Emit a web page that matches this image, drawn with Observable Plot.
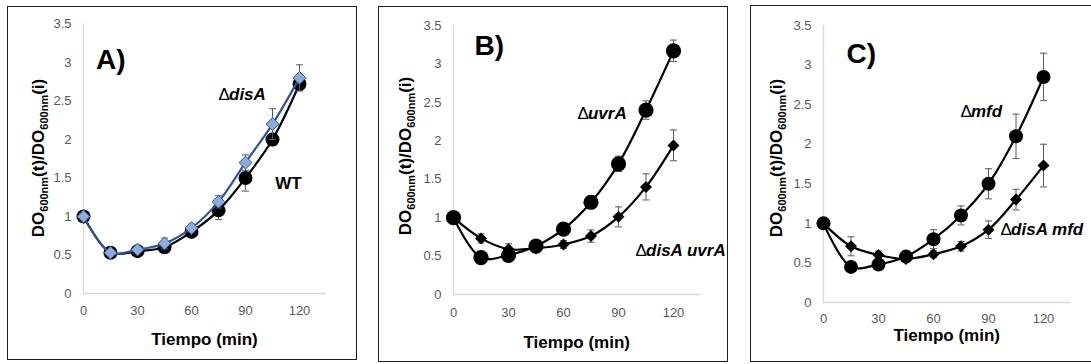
<!DOCTYPE html>
<html><head><meta charset="utf-8">
<script src="https://cdn.jsdelivr.net/npm/d3@7"></script>
<script src="https://cdn.jsdelivr.net/npm/@observablehq/plot@0.6"></script>
<style>
html,body{margin:0;padding:0;background:#fff;width:1091px;height:364px;overflow:hidden;position:relative;}
.box{position:absolute;box-sizing:border-box;border:1.6px solid #1e1e1e;pointer-events:none;}
</style></head><body>
<script>
const times = [0, 15, 30, 45, 60, 75, 90, 105, 120];
const yTicks = [0, 0.5, 1, 1.5, 2, 2.5, 3, 3.5];
const xTicks = [0, 30, 60, 90, 120];
const panelLabels = ["A)", "B)", "C)"];
const xTitle = "Tiempo (min)";

// Panel A
const wtA      = [1.00, 0.53, 0.55, 0.60, 0.80, 1.08, 1.50, 2.00, 2.72];
const wtAErr   = [0, 0.02, 0.03, 0.04, 0.04, 0.12, 0.17, 0.08, 0.08];
const disA     = [1.00, 0.53, 0.57, 0.65, 0.85, 1.19, 1.70, 2.20, 2.80];
const disAErr  = [0, 0.02, 0.03, 0.07, 0.05, 0.08, 0.10, 0.20, 0.17];
// Panel B
const uvrA        = [1.00, 0.48, 0.51, 0.63, 0.85, 1.20, 1.70, 2.40, 3.17];
const uvrAErr     = [0, 0.03, 0.04, 0.05, 0.05, 0.08, 0.10, 0.12, 0.14];
const disAuvrA    = [1.00, 0.73, 0.59, 0.60, 0.65, 0.76, 1.01, 1.40, 1.94];
const disAuvrAErr = [0, 0.06, 0.07, 0.05, 0.05, 0.08, 0.13, 0.17, 0.20];
// Panel C
const mfd        = [1.00, 0.45, 0.48, 0.58, 0.80, 1.10, 1.50, 2.10, 2.85];
const mfdErr     = [0, 0.03, 0.03, 0.04, 0.12, 0.12, 0.19, 0.28, 0.30];
const disAmfd    = [1.00, 0.71, 0.60, 0.55, 0.61, 0.71, 0.92, 1.30, 1.73];
const disAmfdErr = [0, 0.12, 0.05, 0.04, 0.04, 0.06, 0.11, 0.13, 0.27];

// Series label texts: [prefix, italic gene name]
const labelsA = [["", "WT"], ["Δ", "disA"]];
const labelsB = [["Δ", "uvrA"], ["Δ", "disA uvrA"]];
const labelsC = [["Δ", "mfd"], ["Δ", "disA mfd"]];

const FONT = "'Liberation Sans', Arial, Helvetica, sans-serif";
const errColor = "#595959";
const cap = { draw(ctx, size) { const w = Math.sqrt(size / Math.PI); ctx.moveTo(-w, 0); ctx.lineTo(w, 0); } };

function rows(vals, errs) { return times.map((t, i) => ({ t, v: vals[i], e: errs[i] })); }

function seriesMarks(data, st) {
  const withErr = data.filter(d => d.e > 0);
  return [
    Plot.ruleX(withErr, { x: "t", y1: d => d.v - d.e, y2: d => d.v + d.e, stroke: errColor, strokeWidth: 1 }),
    Plot.dot(withErr, { x: "t", y: d => d.v + d.e, symbol: cap, r: 3.5, fill: "none", stroke: errColor, strokeWidth: 1 }),
    Plot.dot(withErr, { x: "t", y: d => d.v - d.e, symbol: cap, r: 3.5, fill: "none", stroke: errColor, strokeWidth: 1 }),
    Plot.line(data, { x: "t", y: "v", curve: "catmull-rom", stroke: st.line, strokeWidth: 2.2 }),
    Plot.dot(data, { x: "t", y: "v", symbol: st.symbol, r: st.r, fill: st.fill, stroke: st.stroke || "none", strokeWidth: st.sw || 0 })
  ];
}

function labelMarks(lab, x, y) {
  const [pre, name] = lab;
  const marks = [];
  const italic = pre === "Δ";
  if (pre) marks.push(Plot.text([pre], { x: () => x, y: () => y, text: d => d, textAnchor: "start", fontSize: 17, fill: "#000" }));
  marks.push(Plot.text([name], { x: () => x, y: () => y, text: d => d, textAnchor: "start", fontSize: 17, fontWeight: "bold",
    fontStyle: italic ? "italic" : "normal", dx: pre ? 10.5 : 0, fill: "#000" }));
  return marks;
}

const circle = { symbol: "circle", r: 7, fill: "#000", line: "#000" };
const circleB = { symbol: "circle", r: 7.6, fill: "#000", line: "#000" };
const diamondBlack = { symbol: "diamond2", r: 5.4, fill: "#000", line: "#000" };
const diamondBlue = { symbol: "diamond2", r: 5.8, fill: "#8FAADC", stroke: "#2F5597", sw: 1, line: "#2F5597" };

const panels = [
  { box: [7, 6, 350, 354], m: [17.5, 31, 67, 76], xPad: 12, label: panelLabels[0], lab: [7, 3.03],
    series: [[rows(wtA, wtAErr), circle], [rows(disA, disAErr), diamondBlue]],
    texts: [[labelsA[0], 106.5, 1.43], [labelsA[1], 75, 2.58]], yt: [36.6, 152], xtY: 339 },
  { box: [378, 6, 350, 356], m: [19, 27.5, 68, 75], xPad: 13, label: panelLabels[1], lab: [11.5, 3.23],
    series: [[rows(disAuvrA, disAuvrAErr), diamondBlack], [rows(uvrA, uvrAErr), circleB]],
    texts: [[labelsB[0], 67.6, 2.35], [labelsB[1], 99.3, 0.57]], yt: [33, 150], xtY: 342 },
  { box: [750, 5, 345, 357], m: [20, 24.5, 60, 73], xPad: 11, label: panelLabels[2], lab: [12.5, 3.14],
    series: [[rows(disAmfd, disAmfdErr), diamondBlack], [rows(mfd, mfdErr), circle]],
    texts: [[labelsC[0], 74.7, 2.41], [labelsC[1], 96.6, 0.92]], yt: [31.6, 153], xtY: 336 }
];

for (const p of panels) {
  const [bx, by, bw, bh] = p.box;
  const [mt, mr, mb, ml] = p.m;
  const marks = [
    Plot.ruleY([0], { stroke: "#d9d9d9", strokeWidth: 1.3 }),
    Plot.ruleX([0], { stroke: "#d9d9d9", strokeWidth: 1.3 }),
    Plot.axisY({ ticks: yTicks, tickSize: 0, tickPadding: 12, fontSize: 13, color: "#595959", tickFormat: d => String(d), label: null }),
    Plot.axisX({ ticks: xTicks, tickSize: 0, tickPadding: p.xPad, fontSize: 13, color: "#595959", tickFormat: d => String(d), label: null })
  ];
  for (const [data, st] of p.series) marks.push(...seriesMarks(data, st));
  for (const [lab, x, y] of p.texts) marks.push(...labelMarks(lab, x, y));
  marks.push(Plot.text([p.label], { x: () => p.lab[0], y: () => p.lab[1], text: d => d, textAnchor: "start", fontSize: 28, fontWeight: "bold", fill: "#000" }));

  const plot = Plot.plot({
    width: bw, height: bh,
    marginTop: mt, marginRight: mr, marginBottom: mb, marginLeft: ml,
    x: { domain: [0, 135] },
    y: { domain: [0, 3.5] },
    style: { fontFamily: FONT, background: "transparent", overflow: "visible" },
    marks
  });
  plot.style.position = "absolute";
  plot.style.left = bx + "px";
  plot.style.top = by + "px";
  document.body.appendChild(plot);

  const svg = d3.select(plot);
  const yt = svg.append("text")
    .attr("transform", `translate(${p.yt[0]},${p.yt[1]}) rotate(-90)`)
    .attr("text-anchor", "middle")
    .attr("font-family", FONT).attr("font-weight", "bold").attr("font-size", 17).attr("fill", "#000");
  const parts = [["DO", 0, 17], ["600nm", 4, 11], ["(t)/DO", -4, 17], ["600nm", 4, 11], ["(i)", -4, 17]];
  for (const [s, dy, fs] of parts) yt.append("tspan").attr("dy", dy).attr("font-size", fs).text(s);
  svg.append("text")
    .attr("x", ml + (bw - ml - mr) / 2).attr("y", p.xtY)
    .attr("text-anchor", "middle")
    .attr("font-family", FONT).attr("font-weight", "bold").attr("font-size", 17).attr("fill", "#000")
    .text(xTitle);

  const box = document.createElement("div");
  box.className = "box";
  box.style.left = bx + "px"; box.style.top = by + "px";
  box.style.width = bw + "px"; box.style.height = bh + "px";
  document.body.appendChild(box);
}
</script>
</body></html>
